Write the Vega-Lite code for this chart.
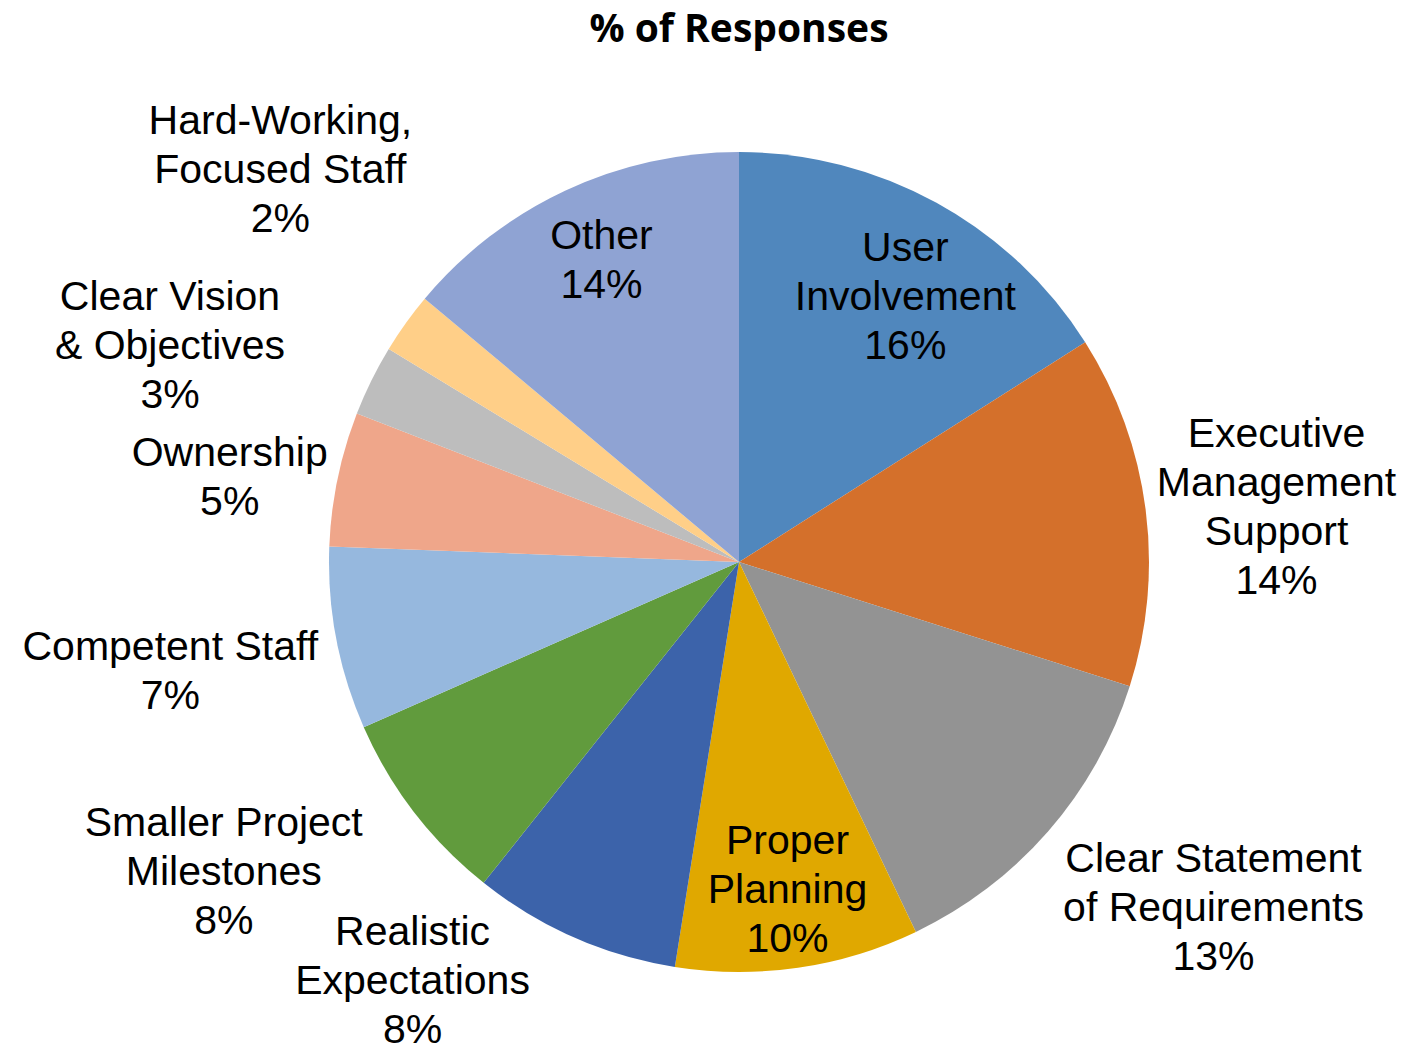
{
  "$schema": "https://vega.github.io/schema/vega-lite/v6.json",
  "width": 1336,
  "height": 980,
  "autosize": {"type": "none"},
  "padding": {"left": 71, "top": 72, "right": 0, "bottom": 0},
  "background": "white",
  "config": {"view": {"stroke": null}},
  "title": {"text": "% of Responses", "font": "Open Sans", "fontSize": 39, "fontWeight": "bold", "color": "black", "anchor": "middle", "frame": "group", "offset": 22},
  "data": {"values": [
    {"idx": 1, "cat": "User Involvement", "value": 16, "label": "User\nInvolvement\n16%"},
    {"idx": 2, "cat": "Executive Management Support", "value": 13.9, "label": "Executive\nManagement\nSupport\n14%"},
    {"idx": 3, "cat": "Clear Statement of Requirements", "value": 13, "label": "Clear Statement\nof Requirements\n13%"},
    {"idx": 4, "cat": "Proper Planning", "value": 9.6, "label": "Proper\nPlanning\n10%"},
    {"idx": 5, "cat": "Realistic Expectations", "value": 8.2, "label": "Realistic\nExpectations\n8%"},
    {"idx": 6, "cat": "Smaller Project Milestones", "value": 7.7, "label": "Smaller Project\nMilestones\n8%"},
    {"idx": 7, "cat": "Competent Staff", "value": 7.2, "label": "Competent Staff\n7%"},
    {"idx": 8, "cat": "Ownership", "value": 5.3, "label": "Ownership\n5%"},
    {"idx": 9, "cat": "Clear Vision & Objectives", "value": 2.8, "label": "Clear Vision\n& Objectives\n3%"},
    {"idx": 10, "cat": "Hard-Working, Focused Staff", "value": 2.4, "label": "Hard-Working,\nFocused Staff\n2%"},
    {"idx": 11, "cat": "Other", "value": 13.9, "label": "Other\n14%"}
  ]},
  "encoding": {
    "theta": {"field": "value", "type": "quantitative", "stack": true},
    "order": {"field": "idx", "type": "quantitative"},
    "detail": {"field": "cat", "type": "nominal"}
  },
  "layer": [
    {
      "mark": {"type": "arc", "radius": 410, "stroke": null},
      "encoding": {
        "color": {"field": "cat", "type": "nominal", "legend": null,
          "scale": {
            "domain": ["User Involvement", "Executive Management Support", "Clear Statement of Requirements", "Proper Planning", "Realistic Expectations", "Smaller Project Milestones", "Competent Staff", "Ownership", "Clear Vision & Objectives", "Hard-Working, Focused Staff", "Other"],
            "range": ["#5087BD", "#D4702B", "#939393", "#E0A800", "#3C63AA", "#619B3D", "#96B8DE", "#EFA68A", "#BDBDBD", "#FFCF88", "#8FA3D3"]
          }}
      }
    },
    {"mark": {"type": "text", "radius": {"expr": "datum.idx === 1 ? 312 : 0"}, "dx": 16, "dy": -40, "font": "Liberation Sans", "fontSize": 41, "lineHeight": 49, "lineBreak": "\n", "align": "center", "baseline": "middle", "color": "black"},
     "encoding": {"text": {"condition": {"test": "datum.idx === 1", "field": "label", "type": "nominal"}, "value": ""}}},
    {"mark": {"type": "text", "radius": {"expr": "datum.idx === 2 ? 540 : 0"}, "dx": 2, "dy": -58, "font": "Liberation Sans", "fontSize": 41, "lineHeight": 49, "lineBreak": "\n", "align": "center", "baseline": "middle", "color": "black"},
     "encoding": {"text": {"condition": {"test": "datum.idx === 2", "field": "label", "type": "nominal"}, "value": ""}}},
    {"mark": {"type": "text", "radius": {"expr": "datum.idx === 3 ? 588 : 0"}, "dx": 31, "dy": -88, "font": "Liberation Sans", "fontSize": 41, "lineHeight": 49, "lineBreak": "\n", "align": "center", "baseline": "middle", "color": "black"},
     "encoding": {"text": {"condition": {"test": "datum.idx === 3", "field": "label", "type": "nominal"}, "value": ""}}},
    {"mark": {"type": "text", "radius": {"expr": "datum.idx === 4 ? 330 : 0"}, "dx": 1, "dy": -47, "font": "Liberation Sans", "fontSize": 41, "lineHeight": 49, "lineBreak": "\n", "align": "center", "baseline": "middle", "color": "black"},
     "encoding": {"text": {"condition": {"test": "datum.idx === 4", "field": "label", "type": "nominal"}, "value": ""}}},
    {"mark": {"type": "text", "radius": {"expr": "datum.idx === 5 ? 500 : 0"}, "dx": -125, "dy": -87, "font": "Liberation Sans", "fontSize": 41, "lineHeight": 49, "lineBreak": "\n", "align": "center", "baseline": "middle", "color": "black"},
     "encoding": {"text": {"condition": {"test": "datum.idx === 5", "field": "label", "type": "nominal"}, "value": ""}}},
    {"mark": {"type": "text", "radius": {"expr": "datum.idx === 6 ? 600 : 0"}, "dx": -40, "dy": -104, "font": "Liberation Sans", "fontSize": 41, "lineHeight": 49, "lineBreak": "\n", "align": "center", "baseline": "middle", "color": "black"},
     "encoding": {"text": {"condition": {"test": "datum.idx === 6", "field": "label", "type": "nominal"}, "value": ""}}},
    {"mark": {"type": "text", "radius": {"expr": "datum.idx === 7 ? 580 : 0"}, "dx": 1, "dy": -23, "font": "Liberation Sans", "fontSize": 41, "lineHeight": 49, "lineBreak": "\n", "align": "center", "baseline": "middle", "color": "black"},
     "encoding": {"text": {"condition": {"test": "datum.idx === 7", "field": "label", "type": "nominal"}, "value": ""}}},
    {"mark": {"type": "text", "radius": {"expr": "datum.idx === 8 ? 515 : 0"}, "dx": -5, "dy": -4, "font": "Liberation Sans", "fontSize": 41, "lineHeight": 49, "lineBreak": "\n", "align": "center", "baseline": "middle", "color": "black"},
     "encoding": {"text": {"condition": {"test": "datum.idx === 8", "field": "label", "type": "nominal"}, "value": ""}}},
    {"mark": {"type": "text", "radius": {"expr": "datum.idx === 9 ? 600 : 0"}, "dx": -31, "dy": 2, "font": "Liberation Sans", "fontSize": 41, "lineHeight": 49, "lineBreak": "\n", "align": "center", "baseline": "middle", "color": "black"},
     "encoding": {"text": {"condition": {"test": "datum.idx === 9", "field": "label", "type": "nominal"}, "value": ""}}},
    {"mark": {"type": "text", "radius": {"expr": "datum.idx === 10 ? 600 : 0"}, "dx": 29, "dy": -90, "font": "Liberation Sans", "fontSize": 41, "lineHeight": 49, "lineBreak": "\n", "align": "center", "baseline": "middle", "color": "black"},
     "encoding": {"text": {"condition": {"test": "datum.idx === 10", "field": "label", "type": "nominal"}, "value": ""}}},
    {"mark": {"type": "text", "radius": {"expr": "datum.idx === 11 ? 330 : 0"}, "dx": 2, "dy": -26, "font": "Liberation Sans", "fontSize": 41, "lineHeight": 49, "lineBreak": "\n", "align": "center", "baseline": "middle", "color": "black"},
     "encoding": {"text": {"condition": {"test": "datum.idx === 11", "field": "label", "type": "nominal"}, "value": ""}}}
  ]
}
